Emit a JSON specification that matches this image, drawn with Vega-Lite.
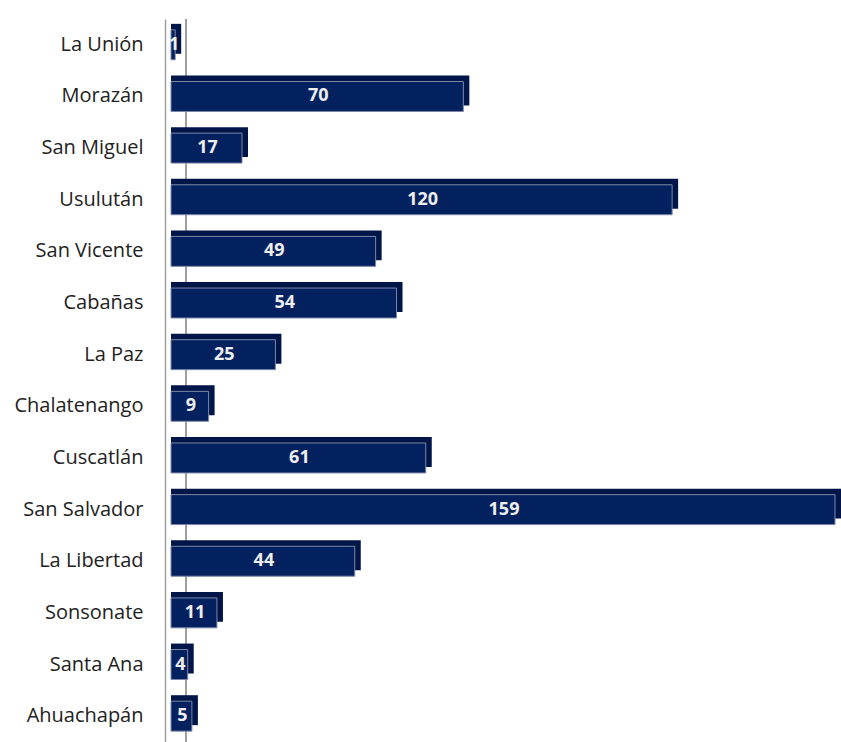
{
  "$schema": "https://vega.github.io/schema/vega-lite/v6.json",
  "autosize": {"type": "none"},
  "padding": {"left": 165, "top": 19, "right": 6, "bottom": 0},
  "width": 670,
  "height": 723,
  "background": "white",
  "config": {"view": {"stroke": null}},
  "data": {"values": [
    {"dep": "La Unión", "v": 1},
    {"dep": "Morazán", "v": 70},
    {"dep": "San Miguel", "v": 17},
    {"dep": "Usulután", "v": 120},
    {"dep": "San Vicente", "v": 49},
    {"dep": "Cabañas", "v": 54},
    {"dep": "La Paz", "v": 25},
    {"dep": "Chalatenango", "v": 9},
    {"dep": "Cuscatlán", "v": 61},
    {"dep": "San Salvador", "v": 159},
    {"dep": "La Libertad", "v": 44},
    {"dep": "Sonsonate", "v": 11},
    {"dep": "Santa Ana", "v": 4},
    {"dep": "Ahuachapán", "v": 5}
  ]},
  "layer": [
    {
      "mark": {"type": "rule", "color": "#a0a0a0", "strokeWidth": 1.5},
      "encoding": {"x": {"datum": 3.6, "type": "quantitative", "scale": {"domain": [-1.44, 159], "nice": false, "zero": false}, "axis": null}}
    },
    {
      "mark": {"type": "bar", "color": "#001548", "xOffset": 6, "yOffset": -6},
      "encoding": {
        "y": {
          "field": "dep", "type": "nominal", "sort": null,
          "scale": {"paddingInner": 0.42, "paddingOuter": 0.21},
          "axis": {
            "title": null, "ticks": false, "labelPadding": 22,
            "labelFont": "Open Sans", "labelFontSize": 20, "labelColor": "#222222",
            "domainColor": "#a0a0a0", "domainWidth": 1.5
          }
        },
        "x": {"field": "v", "type": "quantitative"},
        "x2": {"datum": 0}
      }
    },
    {
      "mark": {"type": "bar", "color": "#04215f", "stroke": "#7d88a8", "strokeWidth": 1},
      "encoding": {
        "y": {"field": "dep", "type": "nominal", "sort": null},
        "x": {"field": "v", "type": "quantitative"},
        "x2": {"datum": 0}
      }
    },
    {
      "transform": [{"calculate": "datum.v / 2", "as": "mid"}],
      "mark": {"type": "text", "color": "#eeeeee", "font": "Open Sans", "fontSize": 18, "fontWeight": "bold", "align": "center", "baseline": "middle", "dx": 1},
      "encoding": {
        "y": {"field": "dep", "type": "nominal", "sort": null},
        "x": {"field": "mid", "type": "quantitative"},
        "text": {"field": "v", "type": "quantitative"}
      }
    }
  ]
}
